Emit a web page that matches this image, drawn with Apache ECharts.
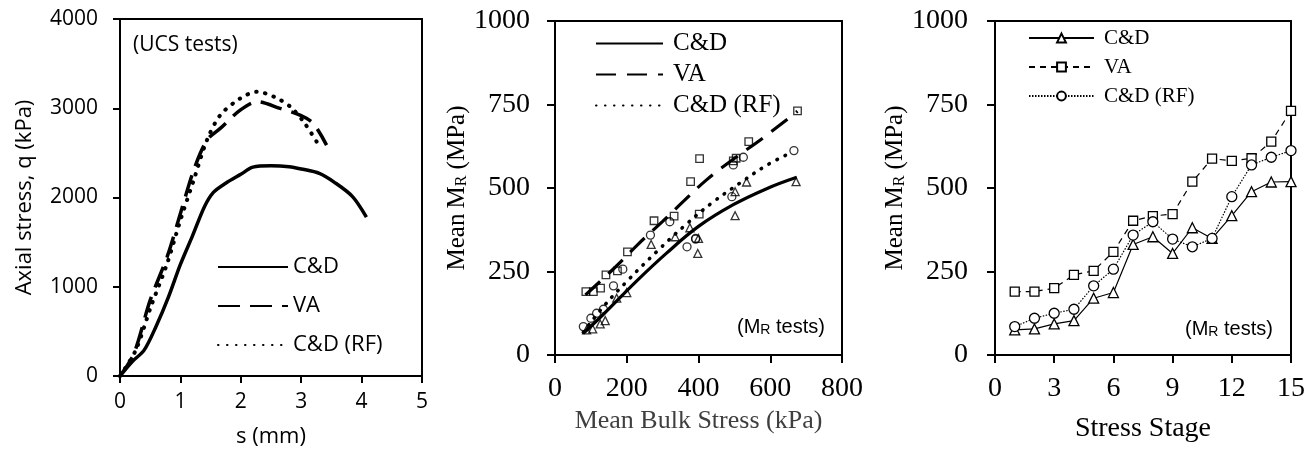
<!DOCTYPE html>
<html>
<head>
<meta charset="utf-8">
<script src="https://cdn.jsdelivr.net/npm/echarts@6.0.0/dist/echarts.min.js"></script>
<style>
html, body { margin: 0; padding: 0; background: #fff; }
#main { width: 1313px; height: 452px; }
</style>
</head>
<body>
<div id="main"></div>
<script>
// ---- panel 1 : UCS tests, axial stress vs displacement
var ucsSCD = [0, 0.2, 0.4, 0.6, 0.8, 1.0, 1.2, 1.4, 1.55, 1.75, 2.0, 2.2, 2.5, 2.8, 3.0, 3.3, 3.55, 3.85, 4.08];
var ucsQCD = [0, 160, 290, 560, 880, 1250, 1570, 1900, 2060, 2160, 2260, 2340, 2355, 2345, 2320, 2270, 2170, 2010, 1780];
var ucsSVA = [0, 0.23, 0.5, 0.78, 1.0, 1.22, 1.44, 1.66, 1.99, 2.27, 2.65, 2.98, 3.2, 3.42];
var ucsQVA = [0, 250, 850, 1335, 1820, 2306, 2643, 2774, 2979, 3073, 2998, 2923, 2830, 2587];
var ucsSRF = [0, 0.26, 0.51, 0.78, 1.0, 1.22, 1.44, 1.66, 1.99, 2.27, 2.55, 2.82, 3.04, 3.29];
var ucsQRF = [0, 288, 774, 1260, 1746, 2194, 2643, 2923, 3110, 3185, 3129, 3017, 2849, 2587];

// ---- panel 2 / 3 : MR tests
var stages = [1, 2, 3, 4, 5, 6, 7, 8, 9, 10, 11, 12, 13, 14, 15];
var mrCD = [75, 78, 93, 103, 170, 187, 331, 354, 304, 381, 349, 417, 489, 518, 519];
var mrVA = [190, 190, 200, 240, 252, 309, 402, 416, 422, 519, 588, 581, 589, 639, 731];
var mrRF = [85, 110, 125, 137, 207, 257, 359, 399, 347, 324, 349, 474, 569, 592, 612];
var bulkCD = [88, 105, 126, 140, 172, 200, 268, 335, 398, 376, 400, 502, 502, 534, 672];
var bulkVA = [86, 107, 127, 142, 174, 202, 276, 332, 402, 378, 403, 497, 505, 540, 676];
var bulkRF = [79, 100, 116, 135, 163, 189, 266, 320, 392, 368, 392, 493, 497, 525, 666];

// trend lines in panel 2
var fitCDx = [79, 135, 228, 311, 400, 497, 590, 674];
var fitCDy = [65, 122, 222, 305, 385, 450, 498, 532];
var fitVAx = [85, 170, 230, 300, 360, 420, 494, 580, 676];
var fitVAy = [180, 265, 330, 400, 462, 522, 584, 650, 730];
var fitRFx = [79, 135, 209, 283, 358, 437, 516, 590, 662];
var fitRFy = [68, 145, 230, 309, 384, 455, 515, 568, 608];

function pairs(xs, ys) {
  return xs.map(function (x, i) { return [x, ys[i]]; });
}

var sans = 'Open Sans';
var serif = 'Liberation Serif';

function valAxis(grid, min, max, step, font, size, margin, tick) {
  return {
    gridIndex: grid, type: 'value', min: min, max: max, interval: step,
    axisLine: { show: true, lineStyle: { color: '#000', width: 2 } },
    axisTick: { show: true, length: tick, lineStyle: { color: '#000', width: 2 } },
    splitLine: { show: false },
    axisLabel: { fontFamily: font, fontSize: size, color: '#000', margin: margin,
      formatter: function (v) { return String(v); } },
    nameLocation: 'middle'
  };
}

var subRich = {
  a: { fontFamily: serif, fontSize: 25, color: '#000', lineHeight: 28, verticalAlign: 'bottom' },
  s: { fontFamily: serif, fontSize: 16, color: '#000', lineHeight: 16, verticalAlign: 'bottom' }
};

var x1 = valAxis(0, 0, 5, 1, sans, 21, 16, 7);
x1.name = 's (mm)'; x1.nameGap = 50;
x1.nameTextStyle = { fontFamily: sans, fontSize: 22, color: '#000' };
var y1 = valAxis(0, 0, 4000, 1000, sans, 21, 22, 7);
y1.name = 'Axial stress, q (kPa)'; y1.nameGap = 84;
y1.nameTextStyle = { fontFamily: sans, fontSize: 22, color: '#000' };

var x2 = valAxis(1, 0, 800, 200, serif, 28, 20, 8);
x2.name = 'Mean Bulk Stress (kPa)'; x2.nameGap = 48;
x2.nameTextStyle = { fontFamily: serif, fontSize: 26, color: '#3f3f3f' };
var y2 = valAxis(1, 0, 1000, 250, serif, 28, 25, 8);
y2.name = '{a|Mean\u2009M}{s|R}{a| (MPa)}'; y2.nameGap = 84;
y2.nameTextStyle = { rich: subRich };

var x3 = valAxis(2, 0, 15, 3, serif, 28, 20, 8);
x3.name = 'Stress Stage'; x3.nameGap = 60;
x3.nameTextStyle = { fontFamily: serif, fontSize: 28, color: '#000' };
var y3 = valAxis(2, 0, 1000, 250, serif, 28, 27, 8);
y3.name = '{a|Mean\u2009M}{s|R}{a| (MPa)}'; y3.nameGap = 84;
y3.nameTextStyle = { rich: subRich };

function gridBox(l, t, w, h) {
  return { left: l, top: t, width: w, height: h, show: true, borderColor: '#000', borderWidth: 2,
    backgroundColor: 'transparent', outerBoundsMode: 'none' };
}

function nameOnly(n) { return n.split('|')[1]; }

var thick = 3.5;
var series = [
  // panel 1
  { name: 'p1|C&D', type: 'line', xAxisIndex: 0, yAxisIndex: 0, symbol: 'none', smooth: 0.3,
    data: pairs(ucsSCD, ucsQCD), lineStyle: { color: '#000', width: thick } , itemStyle: { color: '#000' } },
  { name: 'p1|VA', type: 'line', xAxisIndex: 0, yAxisIndex: 0, symbol: 'none', smooth: 0.3,
    data: pairs(ucsSVA, ucsQVA), lineStyle: { color: '#000', width: thick, type: [22, 10] }, itemStyle: { color: '#000' } },
  { name: 'p1|C&D (RF)', type: 'line', xAxisIndex: 0, yAxisIndex: 0, symbol: 'none', smooth: 0.3,
    data: pairs(ucsSRF, ucsQRF), lineStyle: { color: '#000', width: 4, type: [0.5, 8.5], cap: 'round' }, itemStyle: { color: '#000' } },

  // panel 2 trend lines
  { name: 'p2|C&D', type: 'line', xAxisIndex: 1, yAxisIndex: 1, symbol: 'none', smooth: 0.4,
    data: pairs(fitCDx, fitCDy), lineStyle: { color: '#000', width: 3.2 }, itemStyle: { color: '#000' } },
  { name: 'p2|VA', type: 'line', xAxisIndex: 1, yAxisIndex: 1, symbol: 'none', smooth: 0.4,
    data: pairs(fitVAx, fitVAy), lineStyle: { color: '#000', width: 3.2, type: [20, 11] }, itemStyle: { color: '#000' } },
  { name: 'p2|C&D (RF)', type: 'line', xAxisIndex: 1, yAxisIndex: 1, symbol: 'none', smooth: 0.4,
    data: pairs(fitRFx, fitRFy), lineStyle: { color: '#000', width: 3.6, type: [0.5, 8.5], cap: 'round' }, itemStyle: { color: '#000' } },

  // panel 2 points
  { name: 'p2|ptsCD', type: 'scatter', xAxisIndex: 1, yAxisIndex: 1, symbol: 'triangle', symbolSize: 8, z: 5,
    data: pairs(bulkCD, mrCD), itemStyle: { color: 'transparent', borderColor: '#000', borderWidth: 1.3 } },
  { name: 'p2|ptsVA', type: 'scatter', xAxisIndex: 1, yAxisIndex: 1, symbol: 'rect', symbolSize: 7.5, z: 5,
    data: pairs(bulkVA, mrVA), itemStyle: { color: 'transparent', borderColor: '#000', borderWidth: 1.3 } },
  { name: 'p2|ptsRF', type: 'scatter', xAxisIndex: 1, yAxisIndex: 1, symbol: 'circle', symbolSize: 8, z: 5,
    data: pairs(bulkRF, mrRF), itemStyle: { color: 'transparent', borderColor: '#000', borderWidth: 1.3 } },

  // panel 3
  { name: 'p3|C&D', type: 'line', xAxisIndex: 2, yAxisIndex: 2, symbol: 'triangle', symbolSize: 10, showAllSymbol: true,
    data: pairs(stages, mrCD), lineStyle: { color: '#000', width: 1.2 },
    itemStyle: { color: '#fff', borderColor: '#000', borderWidth: 1.3 } },
  { name: 'p3|VA', type: 'line', xAxisIndex: 2, yAxisIndex: 2, symbol: 'rect', symbolSize: 9, showAllSymbol: true,
    data: pairs(stages, mrVA), lineStyle: { color: '#000', width: 1.2, type: [6, 5] },
    itemStyle: { color: '#fff', borderColor: '#000', borderWidth: 1.3 } },
  { name: 'p3|C&D (RF)', type: 'line', xAxisIndex: 2, yAxisIndex: 2, symbol: 'circle', symbolSize: 10, showAllSymbol: true,
    data: pairs(stages, mrRF), lineStyle: { color: '#000', width: 1.2, type: [1.5, 1.5] },
    itemStyle: { color: '#fff', borderColor: '#000', borderWidth: 1.3 } }
];

var option = {
  animation: false,
  backgroundColor: '#fff',
  grid: [gridBox(120, 19, 302, 357), gridBox(555, 21, 287, 334), gridBox(995, 21, 296, 334)],
  xAxis: [x1, x2, x3],
  yAxis: [y1, y2, y3],
  legend: [
    { data: ['p1|C&D', 'p1|VA', 'p1|C&D (RF)'], orient: 'vertical', left: 217, top: 256, padding: 0,
      itemWidth: 70, itemHeight: 14, itemGap: 17, selectedMode: false, formatter: nameOnly,
      itemStyle: { opacity: 0 },
      textStyle: { fontFamily: sans, fontSize: 22, color: '#000', lineHeight: 22 } },
    { data: ['p2|C&D', 'p2|VA', 'p2|C&D (RF)'], orient: 'vertical', left: 595, top: 31, padding: 0,
      itemWidth: 67, itemHeight: 14, itemGap: 6, selectedMode: false, formatter: nameOnly,
      itemStyle: { opacity: 0 },
      textStyle: { fontFamily: serif, fontSize: 25, color: '#000', lineHeight: 25, padding: [0, 0, 0, 5] } },
    { data: ['p3|C&D', 'p3|VA', 'p3|C&D (RF)'], orient: 'vertical', left: 1028, top: 27, padding: 0,
      itemWidth: 65, itemHeight: 11, itemGap: 7, selectedMode: false, formatter: nameOnly,
      textStyle: { fontFamily: serif, fontSize: 21, color: '#000', lineHeight: 22, padding: [0, 0, 0, 5] } }
  ],
  graphic: [
    { type: 'text', left: 133, top: 35, style: { text: '(UCS tests)', fontFamily: sans, fontSize: 21, fill: '#000' } },
    { type: 'text', left: 737, top: 317, style: {
      text: '{a|(M}{s|R}{a| tests)}',
      rich: {
        a: { fontFamily: 'Liberation Sans', fontSize: 20, fill: '#000', lineHeight: 24, verticalAlign: 'bottom' },
        s: { fontFamily: 'Liberation Sans', fontSize: 14, fill: '#000', lineHeight: 12, verticalAlign: 'bottom' }
      } } },
    { type: 'text', left: 1185, top: 319, style: {
      text: '{a|(M}{s|R}{a| tests)}',
      rich: {
        a: { fontFamily: 'Liberation Sans', fontSize: 20, fill: '#000', lineHeight: 24, verticalAlign: 'bottom' },
        s: { fontFamily: 'Liberation Sans', fontSize: 14, fill: '#000', lineHeight: 12, verticalAlign: 'bottom' }
      } } }
  ],
  series: series
};

var chart = echarts.init(document.getElementById('main'));
chart.setOption(option);
</script>
</body>
</html>
